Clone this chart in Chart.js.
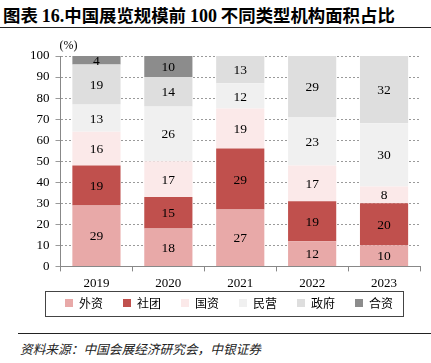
<!DOCTYPE html>
<html>
<head>
<meta charset="utf-8">
<script src="https://cdn.jsdelivr.net/npm/chart.js@4"></script>
<style>
  body { margin: 0; background: #fff; width: 431px; height: 363px; position: relative; overflow: hidden; }
  #title { position: absolute; left: 3px; top: 2px; font: bold 17.4px "Noto Sans CJK SC", sans-serif; color: #000; white-space: nowrap; }
  #title .num { font-family: "Liberation Serif", serif; font-size: 18px; }
  #rule1 { position: absolute; left: 0; top: 27px; width: 431px; height: 0; border-top: 1.5px solid #222; }
  #rule2 { position: absolute; left: 18px; top: 333px; width: 413px; height: 0; border-top: 1.5px solid #222; }
  #source { position: absolute; left: 20px; top: 339px; font: italic 12.7px "Noto Sans CJK SC", sans-serif; color: #222; white-space: nowrap; }
  #wrap { position: absolute; left: 0; top: 30px; width: 431px; height: 290px; }
</style>
</head>
<body>
<div id="title">图表 <span class="num">16.</span>中国展览规模前 <span class="num">100</span> 不同类型机构面积占比</div>
<div id="rule1"></div>
<div id="wrap"><canvas id="chart"></canvas></div>
<div id="rule2"></div>
<div id="source">资料来源：中国会展经济研究会，中银证券</div>
<script>
// years on the x axis
const years = ['2019', '2020', '2021', '2022', '2023'];

// share of exhibition area by organiser type (%)
const foreign   = [29, 18, 27, 12, 10];   // 外资
const society   = [19, 15, 29, 19, 20];   // 社团
const stateOwn  = [16, 17, 19, 17, 8];    // 国资
const privateCo = [13, 26, 12, 23, 30];   // 民营
const government = [19, 14, 13, 29, 32];  // 政府
const jointVent = [4, 10, 0, 0, 0];       // 合资

const yTicks = [0, 10, 20, 30, 40, 50, 60, 70, 80, 90, 100];

const SERIF = '"Liberation Serif", "Times New Roman", serif';
const LEGEND_TRIM = 18;
const LEGEND_SHIFT = 7;

// value labels in the middle of each segment
const segmentLabels = {
  id: 'segmentLabels',
  afterDatasetsDraw(chart) {
    const ctx = chart.ctx;
    ctx.save();
    ctx.font = '13.5px ' + SERIF;
    ctx.fillStyle = '#000';
    ctx.textAlign = 'center';
    ctx.textBaseline = 'middle';
    chart.data.datasets.forEach((ds, i) => {
      const meta = chart.getDatasetMeta(i);
      meta.data.forEach((bar, j) => {
        const v = ds.data[j];
        if (!v) return;
        const mid = (bar.y + bar.base) / 2;
        ctx.fillText(String(v), bar.x, mid + 1);
      });
    });
    ctx.restore();
  }
};

// pull the legend up close to the year labels
const legendTighten = {
  id: 'legendTighten',
  afterInit(chart) {
    const legend = chart.legend;
    const fit = legend.fit;
    legend.fit = function () {
      fit.call(this);
      this.height -= LEGEND_TRIM;
    };
  },
  afterLayout(chart) {
    const lg = chart.legend;
    lg.top -= LEGEND_TRIM;
    lg.height += LEGEND_TRIM;
    lg.left += LEGEND_SHIFT;
    lg.right += LEGEND_SHIFT;
  }
};

// frame round the legend + the "(%)" unit
const extras = {
  id: 'extras',
  afterDraw(chart) {
    const ctx = chart.ctx;
    const boxes = chart.legend.legendHitBoxes;
    if (boxes && boxes.length) {
      const left = Math.min(...boxes.map(b => b.left));
      const right = Math.max(...boxes.map(b => b.left + b.width));
      const top = Math.min(...boxes.map(b => b.top));
      const bottom = Math.max(...boxes.map(b => b.top + b.height));
      ctx.save();
      ctx.strokeStyle = '#444';
      ctx.lineWidth = 1;
      ctx.strokeRect(Math.round(left - 20) + 0.5, Math.round(top - 6) + 0.5,
        Math.round(right - left + 30), Math.round(bottom - top + 13));
      ctx.restore();
    }
    const ca = chart.chartArea;
    ctx.save();
    ctx.font = '12px ' + SERIF;
    ctx.fillStyle = '#000';
    ctx.textAlign = 'left';
    ctx.textBaseline = 'bottom';
    ctx.fillText('(%)', ca.left - 1, ca.top - 4);
    ctx.restore();
  }
};

function ds(label, data, color) {
  return {
    label, data,
    backgroundColor: color,
    borderWidth: 0,
    barPercentage: 0.67,
    categoryPercentage: 1
  };
}

new Chart(document.getElementById('chart'), {
  type: 'bar',
  data: {
    labels: years,
    datasets: [
      ds('外资', foreign, '#E8A9A8'),
      ds('社团', society, '#C0504D'),
      ds('国资', stateOwn, '#FBE9E9'),
      ds('民营', privateCo, '#F0F0F0'),
      ds('政府', government, '#DEDEDE'),
      ds('合资', jointVent, '#8C8C8C')
    ]
  },
  options: {
    responsive: true,
    maintainAspectRatio: false,
    animation: false,
    layout: { padding: { left: 24, right: 11, top: 26, bottom: 1 } },
    plugins: {
      legend: {
        position: 'bottom',
        labels: {
          boxWidth: 8,
          boxHeight: 8,
          padding: 20,
          color: '#000',
          font: { family: '"Noto Sans CJK SC", sans-serif', size: 12 }
        }
      },
      tooltip: { enabled: false }
    },
    scales: {
      x: {
        stacked: true,
        grid: { drawOnChartArea: false, drawTicks: true, tickLength: 5, color: '#888', offset: true },
        border: { color: '#888' },
        ticks: { color: '#000', font: { family: SERIF, size: 13 }, padding: 4 }
      },
      y: {
        stacked: true,
        min: 0,
        max: 100,
        afterBuildTicks: (axis) => { axis.ticks = yTicks.map(v => ({ value: v })); },
        grid: { color: '#9a9a9a', tickLength: 5 },
        border: { color: '#888', dash: [2, 2] },
        ticks: { color: '#000', font: { family: SERIF, size: 13 }, padding: 6 }
      }
    }
  },
  plugins: [segmentLabels, legendTighten, extras]
});
</script>
</body>
</html>
